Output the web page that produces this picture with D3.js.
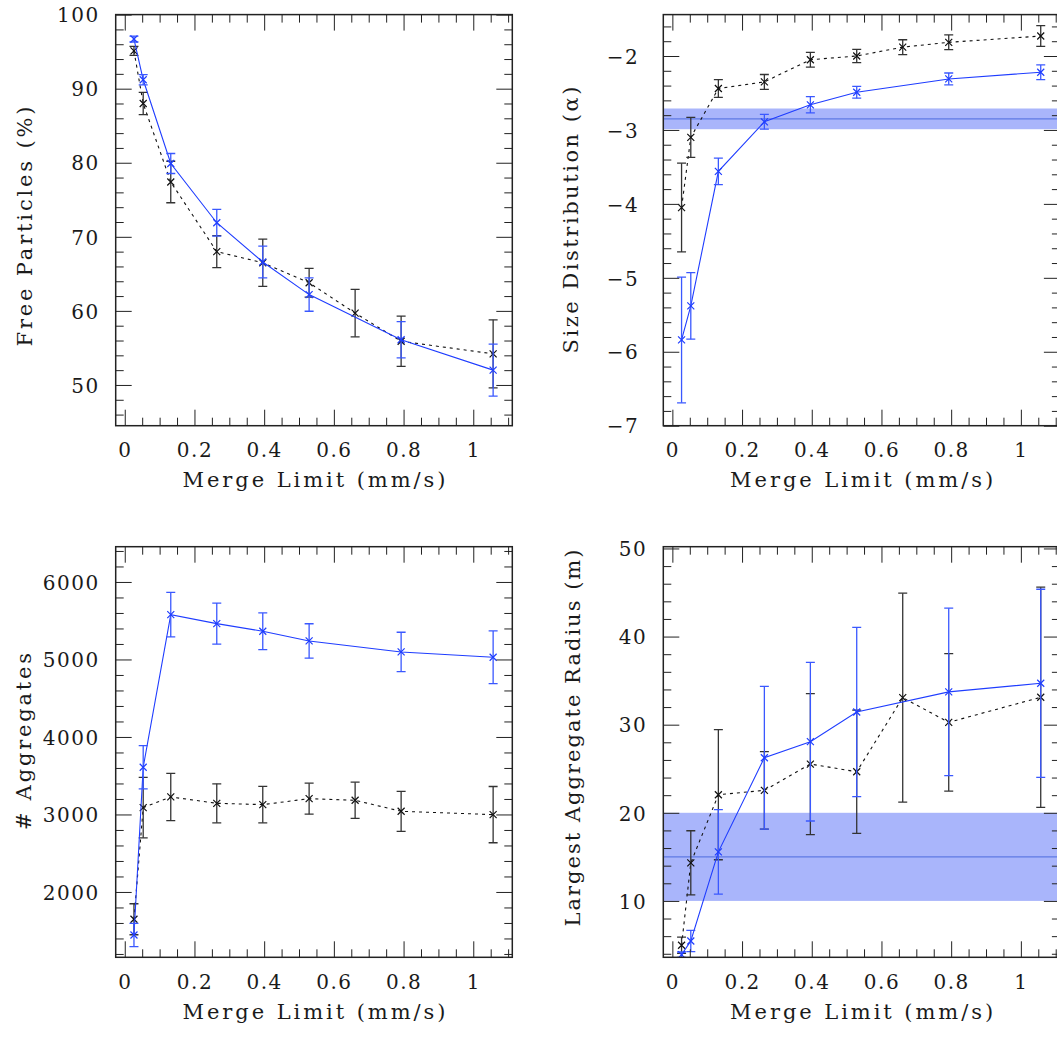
<!DOCTYPE html>
<html><head><meta charset="utf-8">
<script src="https://cdn.jsdelivr.net/npm/d3@7"></script>
<style>
body{margin:0;background:#fff}
svg{display:block}
text{font-family:"DejaVu Serif",serif;fill:#1a1a1a}
</style>
</head><body>
<svg id="c" width="1057" height="1038"></svg>
<script>
// ---------- data ----------
const mergeX     = [0.0264, 0.0529, 0.132, 0.264, 0.396, 0.529, 0.661, 0.793, 1.057];
const mergeXBlue = [0.0264, 0.0529, 0.132, 0.264, 0.396, 0.529, 0.793, 1.057];

const xTickValues = [0, 0.2, 0.4, 0.6, 0.8, 1.0];
const xTickLabels = ["0", "0.2", "0.4", "0.6", "0.8", "1"];

const freeBlack    = [95.1, 88.0, 77.4, 68.0, 66.5, 63.8, 59.7, 55.9, 54.2];
const freeBlackErr = [0.6, 1.5, 2.8, 2.15, 3.2, 1.95, 3.2, 3.4, 4.6];
const freeBlue     = [96.7, 91.2, 79.9, 71.9, 66.6, 62.2, 56.1, 52.0];
const freeBlueErr  = [0.4, 0.7, 1.35, 1.8, 2.15, 2.25, 2.45, 3.5];
const freeTicks    = [50, 60, 70, 80, 90, 100];
const freeLabels   = ["50", "60", "70", "80", "90", "100"];

const alphaBlack    = [-4.05, -3.10, -2.44, -2.35, -2.05, -2.00, -1.88, -1.815, -1.73];
const alphaBlackErr = [0.6, 0.27, 0.12, 0.1, 0.1, 0.09, 0.1, 0.1, 0.14];
const alphaBlue     = [-5.84, -5.38, -3.56, -2.89, -2.66, -2.49, -2.31, -2.22];
const alphaBlueErr  = [0.85, 0.45, 0.18, 0.1, 0.11, 0.08, 0.08, 0.1];
const alphaBand     = [-2.99, -2.85, -2.71];
const alphaTicks    = [-7, -6, -5, -4, -3, -2];
const alphaLabels   = ["\u22127", "\u22126", "\u22125", "\u22124", "\u22123", "\u22122"];

const aggBlack    = [1648, 3088, 3226, 3144, 3127, 3204, 3183, 3041, 2998];
const aggBlackErr = [200, 390, 305, 252, 235, 200, 234, 258, 363];
const aggBlue     = [1445, 3609, 5578, 5462, 5364, 5239, 5097, 5028];
const aggBlueErr  = [150, 280, 287, 265, 237, 222, 254, 340];
const aggTicks    = [2000, 3000, 4000, 5000, 6000];
const aggLabels   = ["2000", "3000", "4000", "5000", "6000"];

const radBlack    = [4.97, 14.32, 22.05, 22.55, 25.53, 24.66, 33.07, 30.27, 33.11];
const radBlackErr = [0.93, 3.64, 7.38, 4.4, 8.0, 7.0, 11.85, 7.8, 12.5];
const radBlue     = [3.9, 5.45, 15.57, 26.25, 28.07, 31.44, 33.72, 34.7];
const radBlueErr  = [0.3, 1.2, 4.8, 8.1, 9.0, 9.6, 9.5, 10.67];
const radBand     = [10, 15, 20];
const radTicks    = [10, 20, 30, 40, 50];
const radLabels   = ["10", "20", "30", "40", "50"];

// ---------- layout ----------
const W = 396.6;
const xDomain = [-0.026, 1.112];
const panels = [
  {left:115.7, top:14.6, h:411.1, yDomain:[44.5,100], yMajor:freeTicks, yLabels:freeLabels, yMinorStep:2,
   black:freeBlack, blackErr:freeBlackErr, blue:freeBlue, blueErr:freeBlueErr, band:null,
   ytitle:"Free Particles (%)", ytLen:240, ytX:32, ytY:226.5, labGap:16},
  {left:663.3, top:14.6, h:411.1, yDomain:[-7,-1.44], yMajor:alphaTicks, yLabels:alphaLabels, yMinorStep:0.2,
   black:alphaBlack, blackErr:alphaBlackErr, blue:alphaBlue, blueErr:alphaBlueErr, band:alphaBand,
   ytitle:"Size Distribution (\u03b1)", ytLen:267, ytX:578, ytY:220, labGap:24},
  {left:115.7, top:546.7, h:410.6, yDomain:[1157,6455], yMajor:aggTicks, yLabels:aggLabels, yMinorStep:200,
   black:aggBlack, blackErr:aggBlackErr, blue:aggBlue, blueErr:aggBlueErr, band:null,
   ytitle:"# Aggregates", ytLen:177, ytX:31, ytY:741.5, labGap:16},
  {left:663.3, top:546.7, h:410.6, yDomain:[3.6,50.2], yMajor:radTicks, yLabels:radLabels, yMinorStep:2,
   black:radBlack, blackErr:radBlackErr, blue:radBlue, blueErr:radBlueErr, band:radBand,
   ytitle:"Largest Aggregate Radius (m)", ytLen:377, ytX:580, ytY:738, labGap:16}
];

const BLUE = "#1f3dff";
const INK = "#222";
const svg = d3.select("#c");
const defs = svg.append("defs");

function minorTicks(domain, step, majors){
  const out = [];
  const lo = Math.ceil(domain[0]/step - 1e-9), hi = Math.floor(domain[1]/step + 1e-9);
  for (let i = lo; i <= hi; i++) {
    const v = +(i*step).toFixed(6);
    if (!majors.some(m => Math.abs(m - v) < step*1e-3)) out.push(v);
  }
  return out;
}

function drawSeries(plot, x, y, xs, ys, es, color, dash, errColor){
  const pts = xs.map((v,i)=>({x:v, y:ys[i], e:es[i]}));
  plot.append("path").datum(pts)
    .attr("d", d3.line().x(d=>x(d.x)).y(d=>y(d.y)))
    .attr("fill","none").attr("stroke",color).attr("stroke-width",1.1)
    .attr("stroke-dasharray", dash);
  const eb = plot.append("g").attr("stroke", errColor).attr("stroke-width",1.3).attr("fill","none");
  pts.forEach(d=>{
    const cx = x(d.x), y1 = y(d.y+d.e), y2 = y(d.y-d.e);
    eb.append("line").attr("x1",cx).attr("x2",cx).attr("y1",y1).attr("y2",y2);
    eb.append("line").attr("x1",cx-4.5).attr("x2",cx+4.5).attr("y1",y1).attr("y2",y1);
    eb.append("line").attr("x1",cx-4.5).attr("x2",cx+4.5).attr("y1",y2).attr("y2",y2);
  });
  const mk = plot.append("g").attr("stroke",color).attr("stroke-width",1.2).attr("fill","none");
  pts.forEach(d=>{
    const cx = x(d.x), cy = y(d.y), s = 3.5;
    mk.append("path").attr("d",`M${cx-s},${cy-s}L${cx+s},${cy+s}M${cx-s},${cy+s}L${cx+s},${cy-s}`);
  });
}

function styleAxis(sel){
  sel.select(".domain").remove();
  sel.selectAll(".tick line").attr("stroke",INK).attr("stroke-width",1);
}

panels.forEach((p,i)=>{
  const h = p.h;
  const x = d3.scaleLinear().domain(xDomain).range([0,W]);
  const y = d3.scaleLinear().domain(p.yDomain).range([h,0]);
  const g = svg.append("g").attr("transform",`translate(${p.left},${p.top})`);
  defs.append("clipPath").attr("id","clip"+i).append("rect").attr("width",W).attr("height",h);
  const plot = g.append("g").attr("clip-path",`url(#clip${i})`);

  if (p.band){
    plot.append("rect").attr("x",0).attr("width",W)
      .attr("y",y(p.band[2])).attr("height",y(p.band[0])-y(p.band[2]))
      .attr("fill","#a9b5fb");
    plot.append("line").attr("x1",0).attr("x2",W)
      .attr("y1",y(p.band[1])).attr("y2",y(p.band[1]))
      .attr("stroke","#5f7ae4").attr("stroke-width",1.1);
  }

  drawSeries(plot, x, y, mergeX, p.black, p.blackErr, "#111", "3,4", "#333");
  drawSeries(plot, x, y, mergeXBlue, p.blue, p.blueErr, BLUE, null, "#3a58ff");

  const xMinor = minorTicks(xDomain, 0.05, xTickValues);
  const yMinor = minorTicks(p.yDomain, p.yMinorStep, p.yMajor);

  // bottom axis with labels
  const xb = g.append("g").attr("transform",`translate(0,${h})`)
    .call(d3.axisBottom(x).tickValues(xTickValues).tickSize(-16).tickFormat((d,k)=>xTickLabels[k]));
  styleAxis(xb);
  xb.selectAll(".tick text").attr("y",31.3).attr("dy",0).attr("font-size",20).attr("letter-spacing",1.5).attr("fill","#1a1a1a");
  styleAxis(g.append("g").attr("transform",`translate(0,${h})`).call(d3.axisBottom(x).tickValues(xMinor).tickSize(-8).tickFormat("")));
  styleAxis(g.append("g").call(d3.axisTop(x).tickValues(xTickValues).tickSize(-16).tickFormat("")));
  styleAxis(g.append("g").call(d3.axisTop(x).tickValues(xMinor).tickSize(-8).tickFormat("")));

  // left axis with labels
  const yl = g.append("g").call(d3.axisLeft(y).tickValues(p.yMajor).tickSize(-16)
    .tickFormat((d,k)=>p.yLabels[k]));
  styleAxis(yl);
  yl.selectAll(".tick text").attr("x",-p.labGap).attr("dy","0.36em").attr("font-size",20)
    .attr("letter-spacing",1.5).attr("fill","#1a1a1a");
  styleAxis(g.append("g").call(d3.axisLeft(y).tickValues(yMinor).tickSize(-8).tickFormat("")));
  styleAxis(g.append("g").attr("transform",`translate(${W},0)`).call(d3.axisRight(y).tickValues(p.yMajor).tickSize(-16).tickFormat("")));
  styleAxis(g.append("g").attr("transform",`translate(${W},0)`).call(d3.axisRight(y).tickValues(yMinor).tickSize(-8).tickFormat("")));

  g.append("rect").attr("width",W).attr("height",h).attr("fill","none")
    .attr("stroke",INK).attr("stroke-width",1.5);

  // titles
  svg.append("text").attr("x",p.left+W/2).attr("y",p.top+h+61.3)
    .attr("text-anchor","middle").attr("font-size",21)
    .attr("textLength",263).attr("lengthAdjust","spacing")
    .text("Merge Limit (mm/s)");
  svg.append("text").attr("transform",`translate(${p.ytX},${p.ytY}) rotate(-90)`)
    .attr("text-anchor","middle").attr("font-size",21)
    .attr("textLength",p.ytLen).attr("lengthAdjust","spacing")
    .text(p.ytitle);
});
</script>
</body></html>
